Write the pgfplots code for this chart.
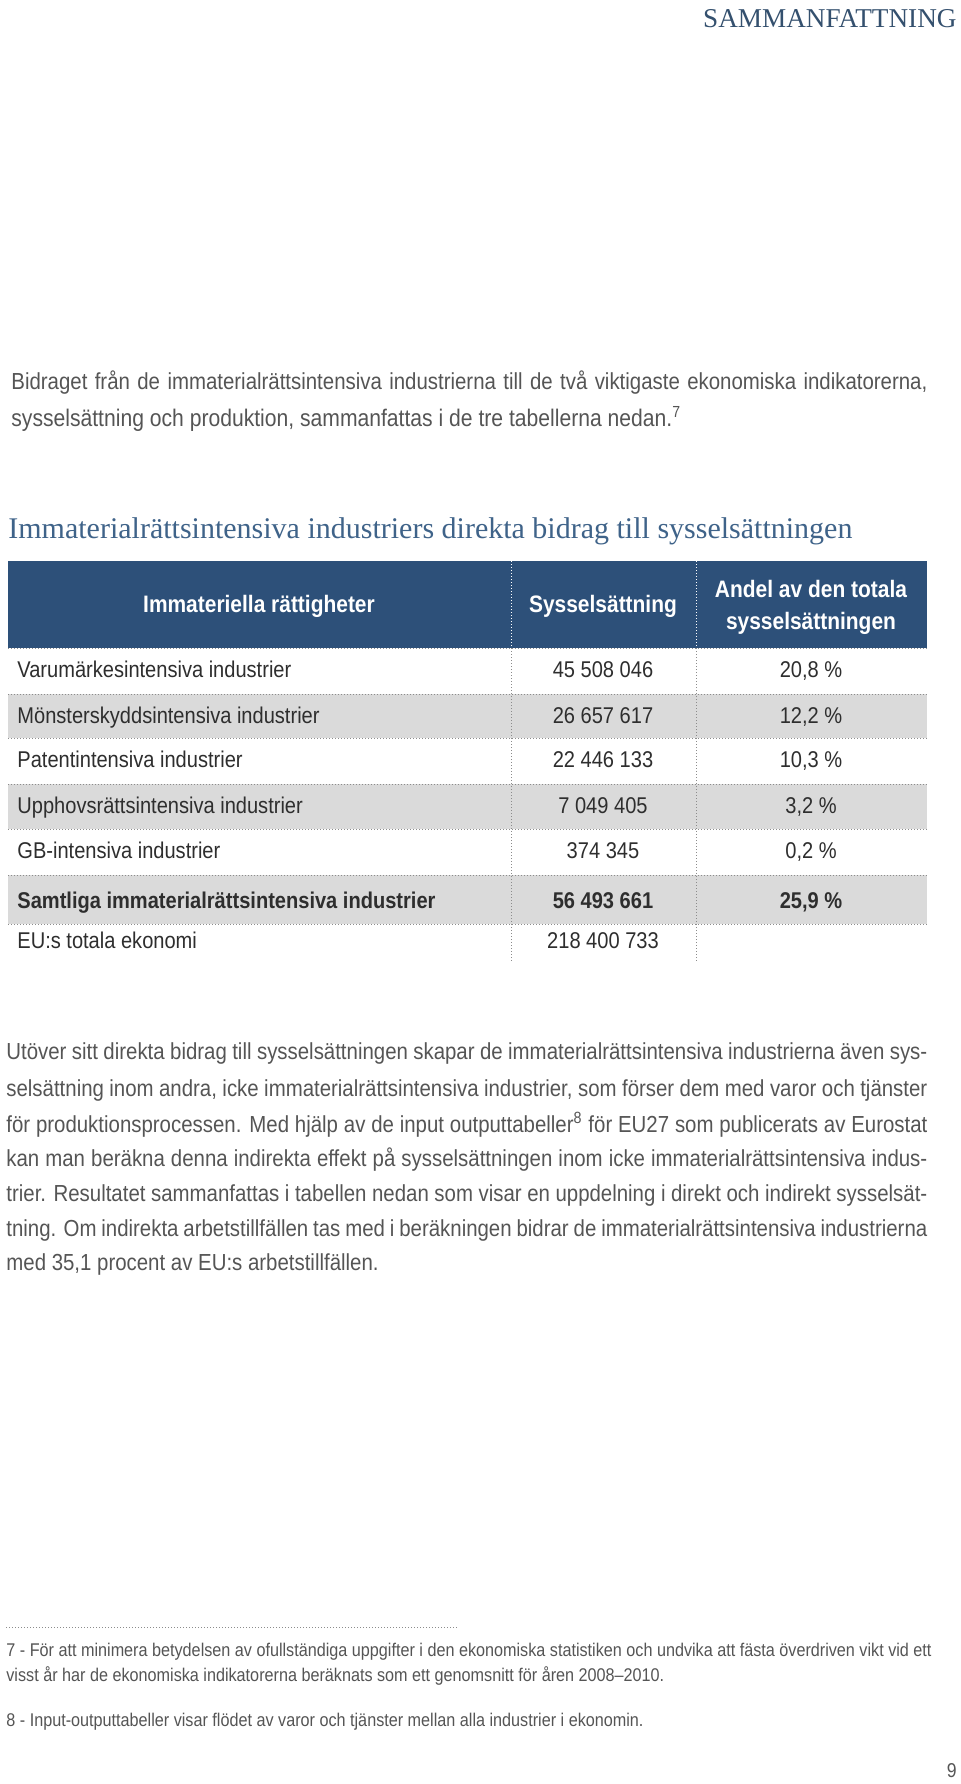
\documentclass[border=0pt]{standalone}
\usepackage{pgfplots}
\pgfplotsset{compat=1.18}
\usepackage{pgfplotstable}
\usepackage{fontspec}
\setmainfont{Liberation Sans}[FakeStretch=0.88]
\newfontfamily\slab{Liberation Serif}

\definecolor{hdrblue}{HTML}{2D5079}
\definecolor{titleblue}{HTML}{3F6389}
\definecolor{topblue}{HTML}{34506E}
\definecolor{rowgray}{HTML}{DADADA}
\definecolor{bodytxt}{HTML}{555555}
\definecolor{tabtxt}{HTML}{2E2E2E}
\definecolor{rulegray}{HTML}{8C8C8C}

% 1 px of the page = 0.5pt
\newlength\pxu
\setlength\pxu{0.5pt}
\newcommand\bodyfont{\fontsize{11.6}{13}\selectfont}
\newcommand\tabfont{\fontsize{11.4}{13}\selectfont}
\newcommand\hdrfont{\fontsize{11.9}{14}\selectfont}
\newcommand\notefont{\fontsize{9.2}{11}\selectfont}
\tikzset{cellnode/.style={inner sep=0pt, text=tabtxt, font=\tabfont, text height=1.75ex, text depth=0.45ex}}

% rows of the table: y position (px), label, employment, share
\pgfplotstableread[col sep=semicolon]{
y;label;num;pct
671;Varumärkesintensiva industrier;45 508 046;20,8 \%
717;Mönsterskyddsintensiva industrier;26 657 617;12,2 \%
761;Patentintensiva industrier;22 446 133;10,3 \%
807;Upphovsrättsintensiva industrier;7 049 405;3,2 \%
852;GB-intensiva industrier;374 345;0,2 \%
902;\textbf{Samtliga immaterialrättsintensiva industrier};\textbf{56 493 661};\textbf{25,9 \%}
942;EU:s totala ekonomi;218 400 733;-
}\rows

\begin{document}
\begin{tikzpicture}
\begin{axis}[
  width=480pt, height=892pt, scale only axis,
  xmin=0, xmax=960, ymin=0, ymax=1784, y dir=reverse,
  hide axis, clip=false,
  point meta=explicit symbolic,
  nodes near coords align=center,
  cellplot/.style={only marks, mark=text, text mark={}, nodes near coords},
]
\path[fill=white] (axis cs:0,0) rectangle (axis cs:960,1784);

% page header
\node[anchor=east, inner sep=0pt, text=topblue, font=\slab\fontsize{13.6}{15}\selectfont]
  at (axis cs:957,19) {SAMMANFATTNING};

% intro paragraph
\node[anchor=west, inner sep=0pt, text=bodytxt, font=\bodyfont] at (axis cs:11,383)
  {\makebox[916\pxu][s]{Bidraget från de immaterialrättsintensiva industrierna till de två viktigaste ekonomiska indikatorerna,}};
\node[anchor=west, inner sep=0pt, text=bodytxt, font=\fontsize{12}{13}\selectfont] at (axis cs:11,419)
  {sysselsättning och produktion, sammanfattas i de tre tabellerna nedan.\textsuperscript{7}};

% table title
\node[anchor=west, inner sep=0pt, text=titleblue, font=\slab\fontsize{15}{17}\selectfont]
  at (axis cs:8,531) {Immaterialrättsintensiva industriers direkta bidrag till sysselsättningen};

% table background
\fill[hdrblue] (axis cs:8,561) rectangle (axis cs:927,648);
\fill[rowgray] (axis cs:8,694) rectangle (axis cs:927,738);
\fill[rowgray] (axis cs:8,784) rectangle (axis cs:927,829);
\fill[rowgray] (axis cs:8,875) rectangle (axis cs:927,924);
\pgfplotsinvokeforeach{648,694,738,784,829,875,924}{
  \draw[rulegray, densely dotted, line width=0.5pt] (axis cs:8,#1) -- (axis cs:927,#1);
}
\pgfplotsinvokeforeach{511,696}{
  \draw[white, densely dotted, line width=0.5pt] (axis cs:#1,561) -- (axis cs:#1,648);
  \draw[rulegray, densely dotted, line width=0.5pt] (axis cs:#1,648) -- (axis cs:#1,961);
}

% header cells
\node[inner sep=0pt, text=white, font=\hdrfont\bfseries] at (axis cs:259,606) {Immateriella rättigheter};
\node[inner sep=0pt, text=white, font=\hdrfont\bfseries] at (axis cs:603,606) {Sysselsättning};
\node[inner sep=0pt, text=white, font=\hdrfont\bfseries, align=center] at (axis cs:811,607)
  {Andel av den totala\\[2pt]sysselsättningen};

% table body
\addplot[cellplot, every node near coord/.append style={cellnode, anchor=west}]
  table[x expr=17, y=y, meta=label] {\rows};
\addplot[cellplot, every node near coord/.append style={cellnode, anchor=center}]
  table[x expr=603, y=y, meta=num] {\rows};
\addplot[cellplot, skip coords between index={6}{7},
  every node near coord/.append style={cellnode, anchor=center}]
  table[x expr=811, y=y, meta=pct] {\rows};

% second paragraph
\begin{scope}[every node/.style={anchor=west, inner sep=0pt, text=bodytxt, font=\bodyfont}]
\node at (axis cs:6,1053) {\makebox[921\pxu][s]{Utöver sitt direkta bidrag till sysselsättningen skapar de immaterialrättsintensiva industrierna även sys-}};
\node at (axis cs:6,1090) {\makebox[921\pxu][s]{selsättning inom andra, icke immaterialrättsintensiva industrier, som förser dem med varor och tjänster}};
\node at (axis cs:6,1125) {\makebox[921\pxu][s]{för produktionsprocessen. Med hjälp av de input outputtabeller\textsuperscript{8} för EU27 som publicerats av Eurostat}};
\node at (axis cs:6,1160) {\makebox[921\pxu][s]{kan man beräkna denna indirekta effekt på sysselsättningen inom icke immaterialrättsintensiva indus-}};
\node at (axis cs:6,1195) {\makebox[921\pxu][s]{trier. Resultatet sammanfattas i tabellen nedan som visar en uppdelning i direkt och indirekt sysselsät-}};
\node at (axis cs:6,1230) {\makebox[921\pxu][s]{tning. Om indirekta arbetstillfällen tas med i beräkningen bidrar de immaterialrättsintensiva industrierna}};
\node at (axis cs:6,1264) {med 35,1 procent av EU:s arbetstillfällen.};
\end{scope}

% footnotes
\draw[rulegray, densely dotted, line width=0.5pt] (axis cs:6,1627) -- (axis cs:457,1627);
\begin{scope}[every node/.style={anchor=west, inner sep=0pt, text=bodytxt, font=\notefont}]
\node at (axis cs:6,1652) {7 - För att minimera betydelsen av ofullständiga uppgifter i den ekonomiska statistiken och undvika att fästa överdriven vikt vid ett};
\node at (axis cs:6,1676) {visst år har de ekonomiska indikatorerna beräknats som ett genomsnitt för åren 2008–2010.};
\node at (axis cs:6,1722) {8 - Input-outputtabeller visar flödet av varor och tjänster mellan alla industrier i ekonomin.};
\end{scope}
\node[anchor=east, inner sep=0pt, text=bodytxt, font=\fontsize{10}{12}\selectfont] at (axis cs:957,1771) {9};
\end{axis}
\end{tikzpicture}
\end{document}
